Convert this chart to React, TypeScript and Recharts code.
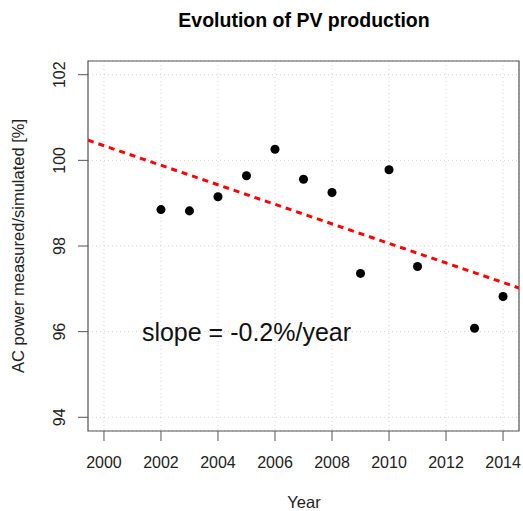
import { ComposedChart, Scatter, Line, XAxis, YAxis, CartesianGrid, ReferenceArea, ReferenceDot } from "recharts";

const years = [2002, 2003, 2004, 2005, 2006, 2007, 2008, 2009, 2010, 2011, 2013, 2014];
const ratios = [98.85, 98.82, 99.15, 99.64, 100.26, 99.56, 99.25, 97.36, 99.78, 97.52, 96.08, 96.82];

// fitted trend, read at the two edges of the plot
const trendYears = [1999.44, 2014.56];
const trendValues = [100.47, 97.02];

const xTicks = [2000, 2002, 2004, 2006, 2008, 2010, 2012, 2014];
const yTicks = [94, 96, 98, 100, 102];
const xDomain = [1999.44, 2014.56];
const yDomain = [93.68, 102.32];

const points = years.map((year, i) => ({ year, value: ratios[i] }));
const trend = trendYears.map((year, i) => ({ year, value: trendValues[i] }));

const font = "'Liberation Sans', Arial, Helvetica, sans-serif";
const axisColor = "#555";
const textColor = "#222";

// R draws y labels parallel to the axis, baseline just left of the ticks
const YTick = ({ y, payload }: any) => {
  const x = 65;
  return (
    <text
      x={x}
      y={y}
      transform={`rotate(-90, ${x}, ${y})`}
      textAnchor="middle"
      fill={textColor}
      fontSize={16}
      fontFamily={font}
    >
      {payload.value}
    </text>
  );
};

export default function App() {
  return (
    <div style={{ position: "absolute", left: 0, top: 0, width: 523, height: 511, background: "#fff" }}>
      <ComposedChart width={523} height={511} margin={{ top: 61, right: 4, bottom: 0, left: 0 }}>
        <CartesianGrid stroke="#d3d3d3" strokeDasharray="1 3" />
        <XAxis
          type="number"
          dataKey="year"
          domain={xDomain}
          ticks={xTicks}
          allowDataOverflow
          height={80}
          axisLine={false}
          tickSize={10}
          tickMargin={16}
          tickLine={{ stroke: axisColor }}
          tick={{ fill: textColor, fontSize: 16, fontFamily: font }}
        />
        <YAxis
          type="number"
          dataKey="value"
          domain={yDomain}
          ticks={yTicks}
          allowDataOverflow
          width={88}
          axisLine={false}
          tickSize={10}
          tickMargin={13}
          tickLine={{ stroke: axisColor }}
          tick={<YTick />}
        />
        <ReferenceArea
          x1={xDomain[0]}
          x2={xDomain[1]}
          y1={yDomain[0]}
          y2={yDomain[1]}
          fill="none"
          fillOpacity={0}
          stroke={axisColor}
          strokeWidth={1.2}
          strokeOpacity={1}
        />
        <Line
          data={trend}
          dataKey="value"
          type="linear"
          stroke="#ff0000"
          strokeWidth={3}
          strokeDasharray="6 5"
          dot={false}
          activeDot={false}
          isAnimationActive={false}
        />
        <Scatter data={points} dataKey="value" fill="#000" isAnimationActive={false} />
        <ReferenceDot
          x={2005}
          y={96}
          r={0}
          fill="none"
          stroke="none"
          label={{ value: "slope = -0.2%/year", position: "center", fontSize: 25, fill: "#111", fontFamily: font }}
        />
        <text x={304} y={27} textAnchor="middle" fontSize={19.5} fontWeight="bold" fontFamily={font} fill="#000">
          Evolution of PV production
        </text>
        <text x={304} y={508} textAnchor="middle" fontSize={16.5} fontFamily={font} fill={textColor}>
          Year
        </text>
        <text
          x={24}
          y={246}
          transform="rotate(-90, 24, 246)"
          textAnchor="middle"
          fontSize={16.5}
          fontFamily={font}
          fill={textColor}
        >
          AC power measured/simulated [%]
        </text>
      </ComposedChart>
    </div>
  );
}
